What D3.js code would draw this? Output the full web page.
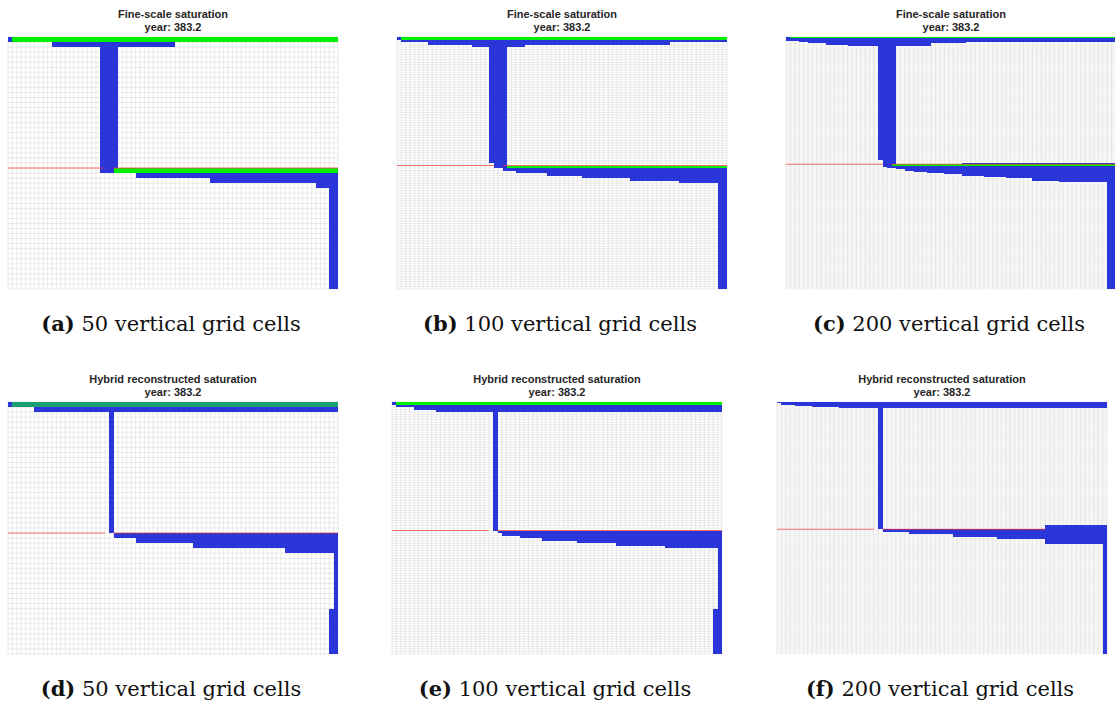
<!DOCTYPE html>
<html>
<head>
<meta charset="utf-8">
<script src="https://cdn.jsdelivr.net/npm/d3@7"></script>
<style>
  body { margin: 0; background: #fff; }
</style>
</head>
<body>
<div id="fig"></div>
<script>
// grid size and labels
var nCols = 75;
var panelRows = [50, 100, 200, 50, 100, 200];
var panelTitles = ["Fine-scale saturation", "Fine-scale saturation", "Fine-scale saturation",
  "Hybrid reconstructed saturation", "Hybrid reconstructed saturation", "Hybrid reconstructed saturation"];
var yearLabel = "year: 383.2";
var captionTags = ["(a)", "(b)", "(c)", "(d)", "(e)", "(f)"];
var captionTexts = ["50 vertical grid cells", "100 vertical grid cells", "200 vertical grid cells",
  "50 vertical grid cells", "100 vertical grid cells", "200 vertical grid cells"];

// saturated cells: [colStart, colEnd, rowStart, rowEnd, colour]  (end exclusive)
var cellsA = [
  [0, 1, 0, 1, "b"], [1, 75, 0, 1, "g"], [10, 38, 1, 2, "b"],
  [21, 25, 2, 26, "b"], [21, 24, 26, 27, "b"], [24, 75, 26, 27, "g"],
  [29, 75, 27, 28, "b"], [46, 75, 28, 29, "b"], [70, 75, 29, 30, "b"], [73, 75, 30, 50, "b"]
];
var cellsB = [
  [0, 1, 0, 1, "b"], [1, 75, 0, 1, "g"], [1, 75, 1, 2, "b"], [7, 62, 2, 3, "b"], [17, 29, 3, 4, "b"],
  [21, 22, 4, 50, "b"], [22, 25, 4, 52, "b"], [25, 75, 51, 52, "g"],
  [24, 27, 52, 53, "b"], [27, 34, 52, 54, "b"], [34, 42, 52, 55, "b"], [42, 53, 52, 56, "b"],
  [53, 64, 52, 57, "b"], [64, 73, 52, 58, "b"], [73, 75, 52, 100, "b"]
];
var cellsC = [
  [0, 1, 0, 3, "b"], [1, 75, 0, 1, "g"], [1, 75, 1, 3, "b"], [3, 75, 3, 4, "b"],
  [5, 21, 4, 5, "b"], [9, 21, 5, 6, "b"], [14, 21, 6, 7, "b"], [25, 33, 4, 7, "b"], [33, 41, 4, 5, "b"],
  [21, 22, 4, 98, "b"], [22, 25, 4, 103, "b"],
  [40, 75, 100, 101, "b"], [24, 75, 101, 102, "g"],
  [23, 25, 102, 104, "b"], [25, 27, 102, 105, "b"], [27, 29, 102, 106, "b"], [29, 32, 102, 107, "b"],
  [32, 36, 102, 108, "b"], [36, 40, 102, 109, "b"], [40, 45, 102, 110, "b"], [45, 50, 102, 111, "b"],
  [50, 56, 102, 112, "b"], [56, 62, 102, 114, "b"], [62, 68, 102, 115, "b"], [68, 73, 102, 115, "b"],
  [73, 75, 102, 200, "b"]
];
var cellsD = [
  [0, 1, 0, 1, "b"], [1, 75, 0, 1, "t"], [6, 75, 1, 2, "b"], [23, 24, 2, 26, "b"],
  [24, 29, 26, 27, "b"], [29, 42, 26, 28, "b"], [42, 63, 26, 29, "b"], [63, 74, 26, 30, "b"],
  [74, 75, 26, 50, "b"], [73, 74, 41, 50, "b"]
];
var cellsE = [
  [0, 1, 0, 1, "b"], [1, 75, 0, 1, "g"], [1, 75, 1, 2, "b"], [5, 75, 2, 3, "b"], [10, 75, 3, 4, "b"],
  [23, 24, 4, 51, "b"],
  [24, 25, 51, 52, "b"], [25, 29, 51, 53, "b"], [29, 34, 51, 54, "b"], [34, 42, 51, 55, "b"],
  [42, 51, 51, 56, "b"], [51, 62, 51, 57, "b"], [62, 74, 51, 58, "b"], [74, 75, 51, 100, "b"],
  [73, 74, 82, 100, "b"]
];
var cellsF = [
  [0, 75, 0, 1, "b"], [1, 75, 1, 2, "b"], [4, 75, 2, 3, "b"], [8, 75, 3, 4, "b"], [14, 75, 4, 5, "b"],
  [23, 24, 5, 101, "b"],
  [24, 30, 101, 103, "b"], [30, 40, 101, 105, "b"], [40, 50, 101, 107, "b"], [50, 61, 101, 109, "b"],
  [61, 75, 98, 113, "b"], [74, 75, 113, 200, "b"]
];
var panelCells = [cellsA, cellsB, cellsC, cellsD, cellsE, cellsF];

// red interface line: [colStart, colEnd, row]
var redA = [[0, 22, 26], [24, 75, 26]];
var redB = [[0, 22, 51], [24, 75, 51]];
var redC = [[0, 22, 101], [24, 75, 101]];
var redD = [[0, 22, 26], [24, 75, 26]];
var redE = [[0, 22, 51], [24, 75, 51]];
var redF = [[0, 22, 101], [24, 61, 101]];
var panelRed = [redA, redB, redC, redD, redE, redF];

var colours = { b: "#2b36d9", g: "#00f000", t: "#18a070" };

// layout
var W = 1115, H = 706;
var pw = 330, ph = 252;
var panelX = [8, 397, 786, 8, 392, 777];
var panelY = [37, 37, 37, 402, 402, 402];

var svg = d3.select("#fig").append("svg")
  .attr("width", W).attr("height", H)
  .style("font-family", "'Liberation Sans', Arial, sans-serif");

panelRows.forEach(function(nRows, i) {
  var g = svg.append("g")
    .attr("transform", "translate(" + panelX[i] + "," + panelY[i] + ")");

  var x = d3.scaleLinear().domain([0, nCols]).range([0, pw]);
  var y = d3.scaleLinear().domain([0, nRows]).range([0, ph]);

  // grid
  g.append("rect").attr("width", pw).attr("height", ph).attr("fill", "#fff");
  g.selectAll(".vl").data(d3.range(nCols + 1)).enter().append("line")
    .attr("x1", d => x(d)).attr("x2", d => x(d))
    .attr("y1", 0).attr("y2", ph)
    .attr("stroke", "#dcdcdc").attr("stroke-width", 0.6);
  g.selectAll(".hl").data(d3.range(nRows + 1)).enter().append("line")
    .attr("y1", d => y(d)).attr("y2", d => y(d))
    .attr("x1", 0).attr("x2", pw)
    .attr("stroke", "#dcdcdc").attr("stroke-width", nRows > 100 ? 0.35 : 0.6);

  // saturated cells
  g.selectAll(".cell").data(panelCells[i]).enter().append("rect")
    .attr("x", d => x(d[0]))
    .attr("width", d => x(d[1]) - x(d[0]))
    .attr("y", d => y(d[2]))
    .attr("height", d => y(d[3]) - y(d[2]))
    .attr("fill", d => colours[d[4]])
    .attr("shape-rendering", "crispEdges");

  // interface line
  g.selectAll(".red").data(panelRed[i]).enter().append("line")
    .attr("x1", d => x(d[0])).attr("x2", d => x(d[1]))
    .attr("y1", d => y(d[2])).attr("y2", d => y(d[2]))
    .attr("stroke", "#ff3030").attr("stroke-opacity", 0.7).attr("stroke-width", 1);

  // titles
  var cx = panelX[i] + pw / 2;
  var ty = panelY[i] - 19;
  svg.append("text").attr("x", cx).attr("y", ty)
    .attr("text-anchor", "middle").attr("font-size", 11).attr("font-weight", "bold")
    .attr("fill", "#262626").text(panelTitles[i]);
  svg.append("text").attr("x", cx).attr("y", ty + 13)
    .attr("text-anchor", "middle").attr("font-size", 11).attr("font-weight", "bold")
    .attr("fill", "#262626").text(yearLabel);

  // caption
  var cap = svg.append("text").attr("x", cx - 2).attr("y", panelY[i] + ph + 42)
    .attr("text-anchor", "middle")
    .style("font-family", "'DejaVu Serif', 'Liberation Serif', serif")
    .attr("font-size", 21).attr("fill", "#111");
  cap.append("tspan").attr("font-weight", "bold").text(captionTags[i]);
  cap.append("tspan").text(" " + captionTexts[i]);
});
</script>
</body>
</html>
